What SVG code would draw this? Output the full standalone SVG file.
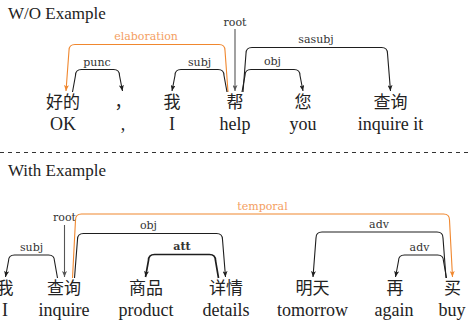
<svg xmlns="http://www.w3.org/2000/svg" width="468" height="324" viewBox="0 0 468 324">
<style>
.bg{fill:#fff}
.head{font-size:17px;fill:#222}
.cjk{font-size:17px;fill:#222;text-anchor:middle}
.en{font-size:18px;fill:#222;text-anchor:middle}
.lbl{font-size:11px;fill:#333;text-anchor:middle}
.lblo{font-size:11px;fill:#F4A062;text-anchor:middle}
.arc{fill:none;stroke:#1e1e1e;stroke-width:1.1;marker-end:url(#ab)}
.arcb{fill:none;stroke:#1e1e1e;stroke-width:1.7;marker-end:url(#ab)}
.arco{fill:none;stroke:#F0872E;stroke-width:1.1;marker-end:url(#ao)}
.root{fill:none;stroke:#555;stroke-width:1.1;marker-end:url(#ag)}
.sep{stroke:#333;stroke-width:1;stroke-dasharray:4 4}
</style>
<defs>
<marker id="ab" viewBox="0 0 6 5" refX="6" refY="2.5" markerWidth="6" markerHeight="5" markerUnits="userSpaceOnUse" orient="auto"><path d="M0,0 L6,2.5 L0,5 L1.5,2.5 Z" fill="#1e1e1e"/></marker>
<marker id="ao" viewBox="0 0 6 5" refX="6" refY="2.5" markerWidth="6" markerHeight="5" markerUnits="userSpaceOnUse" orient="auto"><path d="M0,0 L6,2.5 L0,5 L1.5,2.5 Z" fill="#F0872E"/></marker>
<marker id="ag" viewBox="0 0 6 5" refX="6" refY="2.5" markerWidth="6" markerHeight="5" markerUnits="userSpaceOnUse" orient="auto"><path d="M0,0 L6,2.5 L0,5 L1.5,2.5 Z" fill="#555"/></marker>
</defs>
<rect class="bg" x="0" y="0" width="468" height="324"/>

<text class="head" x="8" y="18.5" style="font-family:'Liberation Serif',serif">W/O Example</text>
<line class="sep" x1="0" y1="152.5" x2="468" y2="152.5"/>
<text class="head" x="8" y="176" style="font-family:'Liberation Serif',serif">With Example</text>

<!-- top sentence nodes -->
<g id="t-haode"><text class="cjk" x="63" y="108" style="font-family:'Noto Sans CJK SC',sans-serif">好的</text><text class="en" x="63" y="130" style="font-family:'Liberation Serif',serif">OK</text></g>
<g id="t-comma"><text class="cjk" x="123" y="108" style="font-family:'Noto Sans CJK SC',sans-serif">，</text><text class="en" x="123" y="130" style="font-family:'Liberation Serif',serif">,</text></g>
<g id="t-wo"><text class="cjk" x="172" y="108" style="font-family:'Noto Sans CJK SC',sans-serif">我</text><text class="en" x="172" y="130" style="font-family:'Liberation Serif',serif">I</text></g>
<g id="t-bang"><text class="cjk" x="235" y="108" style="font-family:'Noto Sans CJK SC',sans-serif">帮</text><text class="en" x="235" y="130" style="font-family:'Liberation Serif',serif">help</text></g>
<g id="t-nin"><text class="cjk" x="303" y="108" style="font-family:'Noto Sans CJK SC',sans-serif">您</text><text class="en" x="303" y="130" style="font-family:'Liberation Serif',serif">you</text></g>
<g id="t-chaxun"><text class="cjk" x="390.5" y="108" style="font-family:'Noto Sans CJK SC',sans-serif">查询</text><text class="en" x="390.5" y="130" style="font-family:'Liberation Serif',serif">inquire it</text></g>

<!-- bottom sentence nodes -->
<g id="b-wo"><text class="cjk" x="5" y="294" style="font-family:'Noto Sans CJK SC',sans-serif">我</text><text class="en" x="5" y="316" style="font-family:'Liberation Serif',serif">I</text></g>
<g id="b-chaxun"><text class="cjk" x="64" y="294" style="font-family:'Noto Sans CJK SC',sans-serif">查询</text><text class="en" x="64" y="316" style="font-family:'Liberation Serif',serif">inquire</text></g>
<g id="b-shangpin"><text class="cjk" x="146" y="294" style="font-family:'Noto Sans CJK SC',sans-serif">商品</text><text class="en" x="146" y="316" style="font-family:'Liberation Serif',serif">product</text></g>
<g id="b-xiangqing"><text class="cjk" x="226" y="294" style="font-family:'Noto Sans CJK SC',sans-serif">详情</text><text class="en" x="226" y="316" style="font-family:'Liberation Serif',serif">details</text></g>
<g id="b-mingtian"><text class="cjk" x="312.5" y="294" style="font-family:'Noto Sans CJK SC',sans-serif">明天</text><text class="en" x="312.5" y="316" style="font-family:'Liberation Serif',serif">tomorrow</text></g>
<g id="b-zai"><text class="cjk" x="395" y="294" style="font-family:'Noto Sans CJK SC',sans-serif">再</text><text class="en" x="394" y="316" style="font-family:'Liberation Serif',serif">again</text></g>
<g id="b-mai"><text class="cjk" x="452.5" y="294" style="font-family:'Noto Sans CJK SC',sans-serif">买</text><text class="en" x="452" y="316" style="font-family:'Liberation Serif',serif">buy</text></g>

<g id="connectors">
<!-- top -->
<path class="arco" d="M228 92 L225 50.5 Q225 44.5 219 44.5 L75 44.5 Q69 44.5 69 50.5 L66 91"/>
<text class="lblo" x="146" y="40" style="font-family:'DejaVu Serif',serif">elaboration</text>
<path class="root" d="M235 29 L235 91"/>
<text class="lbl" x="235" y="26" style="font-family:'DejaVu Serif',serif">root</text>
<path class="arc" d="M72.5 92 L75.5 75.5 Q75.5 69.5 81.5 69.5 L113.5 69.5 Q119.5 69.5 119.5 75.5 L122.5 91"/>
<text class="lbl" x="97" y="65.5" style="font-family:'DejaVu Serif',serif">punc</text>
<path class="arc" d="M227 92 L224 75.5 Q224 69.5 218 69.5 L181 69.5 Q175 69.5 175 75.5 L172 91"/>
<text class="lbl" x="199.5" y="65.5" style="font-family:'DejaVu Serif',serif">subj</text>
<path class="arc" d="M242 92 L245 75.5 Q245 69.5 251 69.5 L294 69.5 Q300 69.5 300 75.5 L303 91"/>
<text class="lbl" x="272.5" y="65" style="font-family:'DejaVu Serif',serif">obj</text>
<path class="arc" d="M243 92 L246 53.5 Q246 47.5 252 47.5 L381.5 47.5 Q387.5 47.5 387.5 53.5 L390.5 91"/>
<text class="lbl" x="316" y="43" style="font-family:'DejaVu Serif',serif">sasubj</text>
<!-- bottom -->
<path class="root" d="M64.5 225 L64.5 277"/>
<text class="lbl" x="64.5" y="221" style="font-family:'DejaVu Serif',serif">root</text>
<path class="arc" d="M57.5 278 L54.5 261 Q54.5 255 48.5 255 L14.5 255 Q8.5 255 8.5 261 L5.5 277"/>
<text class="lbl" x="31.5" y="250.5" style="font-family:'DejaVu Serif',serif">subj</text>
<path class="arco" d="M72.5 278 L75.5 220 Q75.5 214 81.5 214 L443.5 214 Q449.5 214 449.5 220 L452.5 277"/>
<text class="lblo" x="262.5" y="210" style="font-family:'DejaVu Serif',serif">temporal</text>
<path class="arc" d="M74.5 278 L77.5 239.5 Q77.5 233.5 83.5 233.5 L216.5 233.5 Q222.5 233.5 222.5 239.5 L225.5 277"/>
<text class="lbl" x="148.5" y="228.5" style="font-family:'DejaVu Serif',serif">obj</text>
<path class="arcb" d="M218.5 278 L215.5 260.5 Q215.5 254.5 209.5 254.5 L154.5 254.5 Q148.5 254.5 148.5 260.5 L145.5 277"/>
<text class="lbl" x="182" y="250" style="font-family:'DejaVu Serif',serif;font-weight:bold">att</text>
<path class="arc" d="M446 278 L443 238 Q443 232 437 232 L322 232 Q316 232 316 238 L313 277"/>
<text class="lbl" x="379" y="227.5" style="font-family:'DejaVu Serif',serif">adv</text>
<path class="arc" d="M446.5 278 L443.5 261 Q443.5 255 437.5 255 L404.5 255 Q398.5 255 398.5 261 L395.5 277"/>
<text class="lbl" x="419.5" y="250.5" style="font-family:'DejaVu Serif',serif">adv</text>
</g>
</svg>
